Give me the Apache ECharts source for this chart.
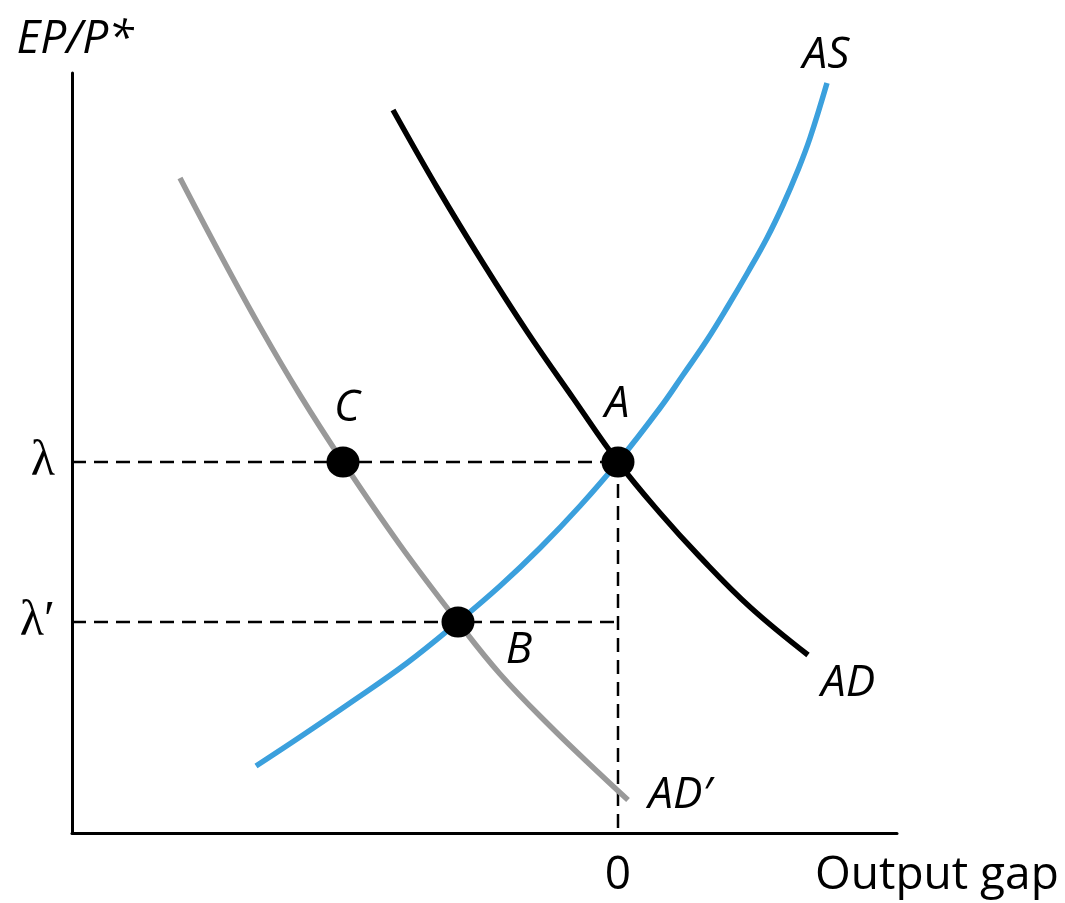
<!DOCTYPE html>
<html lang="en">
<head>
    <meta charset="UTF-8">
    <title>AS / AD</title>
    <script src="https://cdn.jsdelivr.net/npm/echarts@6.0.0/dist/echarts.min.js"></script>
    <style>
        * { margin: 0; padding: 0; }
        body { background: #fff; }
        #chart-container { width: 1065px; height: 903px; }
    </style>
</head>
<body>
<div id="chart-container"></div>
<script>
    // axis range (output gap, EP/P*)
    const xMin = -54.6, xMax = 27.9, yMax = 76;
    const lambda = 37.1;
    const lambdaPrime = 21.1;

    // curves
    const asCurve = [
        [-36.2, 6.7], [-31.8, 9.6], [-26.8, 13.0], [-21.1, 17.0], [-16.0, 21.1],
        [-11.8, 24.7], [-7.8, 28.5], [-3.8, 32.7], [0, 37.1], [4.2, 42.5],
        [6.5, 45.8], [8.9, 49.3], [11.0, 52.7], [13.0, 56.1], [14.9, 59.5],
        [16.5, 62.8], [18.0, 66.3], [19.2, 69.5], [20.9, 75.0]
    ];
    const adCurve = [
        [-22.5, 72.3], [-18.0, 64.4], [-13.5, 57.0], [-9.0, 50.0], [-4.5, 43.5],
        [0, 37.1], [4.2, 32.0], [8.2, 27.6], [13.2, 22.6], [19.0, 17.8]
    ];
    const adPrimeCurve = [
        [-43.8, 65.5], [-39.8, 57.9], [-35.8, 50.6], [-31.8, 43.8], [-27.5, 37.1],
        [-21.8, 28.8], [-16.0, 21.1], [-11.8, 15.9], [-6.8, 10.7], [-1.8, 5.9], [1.0, 3.3]
    ];

    // equilibrium points
    const pointNames = ['A', 'B', 'C'];
    const pointValues = [[0, lambda], [-16.0, lambdaPrime], [-27.5, lambda]];

    const curveNames = ['AS', 'AD', 'AD\u2032'];

    let chartDom = document.getElementById('chart-container');
    let myChart = echarts.init(chartDom);

    const italic = {
        fontFamily: 'Open Sans',
        fontStyle: 'italic',
        fontSize: 44,
        color: '#000'
    };

    function dashed(data) {
        return {
            type: 'line',
            data: data,
            symbol: 'none',
            silent: true,
            z: 1,
            lineStyle: {color: '#000', width: 2.5, type: [14, 8]}
        };
    }

    function curve(data, color, z) {
        return {
            type: 'line',
            data: data,
            smooth: 0.4,
            symbol: 'none',
            silent: true,
            z: z,
            lineStyle: {color: color, width: 5.5, cap: 'butt'}
        };
    }

    // label offsets for the points and curve ends
    const pointOffsets = {A: [-1, -58], B: [61, 28], C: [4, -54]};
    const curveOffsets = {'AS': [-1, -28], 'AD': [40, 28], 'AD\u2032': [52, -5]};
    const curveEnds = [asCurve, adCurve, adPrimeCurve].map(c => c[c.length - 1]);

    let option = {
        animation: false,
        grid: {left: 72, right: 168, top: 73, bottom: 70},
        xAxis: {
            type: 'value',
            min: xMin,
            max: xMax,
            name: 'Output gap',
            nameLocation: 'end',
            nameGap: -82,
            nameTextStyle: {
                fontFamily: 'Open Sans', fontSize: 46, color: '#000',
                align: 'left', verticalAlign: 'top', padding: [20, 0, 0, 0]
            },
            axisLine: {lineStyle: {color: '#000', width: 3}},
            axisTick: {show: false},
            splitLine: {show: false},
            axisLabel: {
                customValues: [0],
                formatter: () => '0',
                fontFamily: 'Open Sans', fontSize: 46, color: '#000',
                margin: 20
            }
        },
        yAxis: {
            type: 'value',
            min: 0,
            max: yMax,
            name: 'EP/P*',
            nameLocation: 'end',
            nameGap: 10,
            nameTextStyle: Object.assign({}, italic, {fontSize: 46, align: 'center', padding: [0, 0, 0, 6]}),
            axisLine: {show: true, onZero: false, lineStyle: {color: '#000', width: 3}},
            axisTick: {show: false},
            splitLine: {show: false},
            axisLabel: {
                customValues: [lambdaPrime, lambda],
                formatter: v => (v === lambda ? '\u03bb' : '\u03bb\u2032'),
                fontFamily: 'Liberation Serif', fontSize: 50, color: '#000',
                margin: 17
            }
        },
        series: [
            dashed([[xMin, lambda], [0, lambda]]),
            dashed([[xMin, lambdaPrime], [0, lambdaPrime]]),
            dashed([[0, lambda], [0, 0]]),
            curve(adPrimeCurve, '#999999', 2),
            curve(asCurve, '#3ba0dd', 3),
            curve(adCurve, '#000000', 4),
            {
                type: 'scatter',
                z: 5,
                silent: true,
                symbol: 'circle',
                symbolSize: [33, 31],
                itemStyle: {color: '#000', opacity: 1},
                data: pointNames.map((n, i) => ({
                    name: n,
                    value: pointValues[i],
                    label: {
                        show: true,
                        formatter: n,
                        position: 'inside',
                        offset: pointOffsets[n],
                        align: 'center',
                        verticalAlign: 'middle',
                        ...italic
                    }
                }))
            },
            {
                type: 'scatter',
                z: 5,
                silent: true,
                symbolSize: 0,
                itemStyle: {opacity: 1},
                data: curveNames.map((n, i) => ({
                    name: n,
                    value: curveEnds[i],
                    label: {
                        show: true,
                        formatter: n,
                        position: 'inside',
                        offset: curveOffsets[n],
                        align: 'center',
                        verticalAlign: 'middle',
                        ...italic
                    }
                }))
            }
        ]
    };

    option && myChart.setOption(option);
</script>
</body>
</html>
